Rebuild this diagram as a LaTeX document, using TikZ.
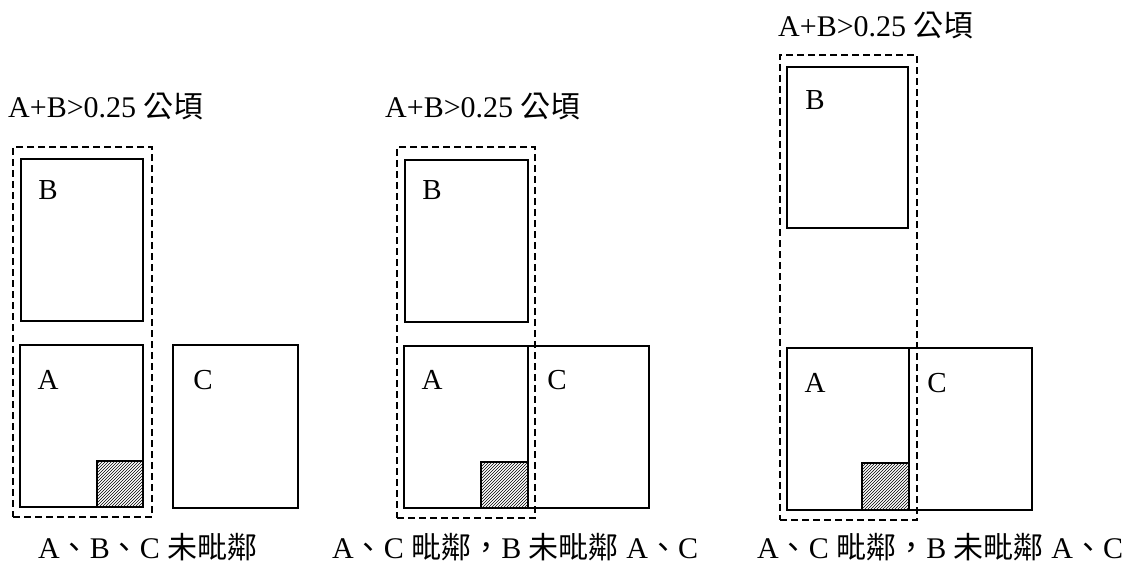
\documentclass[tikz,border=0pt]{standalone}
\usepackage{fontspec}
\setmainfont{Liberation Serif}
\newfontfamily\cjk{Noto Sans CJK TC}
\usetikzlibrary{fit,patterns}
\begin{document}
\begin{tikzpicture}[x=1pt,y=-1pt,
  plot/.style={draw=black, line width=1.6pt, inner sep=0pt, fill=none},
  group/.style={draw=black, line width=1.5pt, dash pattern=on 7pt off 4pt, inner sep=0pt},
  hatch/.style={draw=black, line width=1.4pt, inner sep=0pt, pattern=north east lines},
  letter/.style={font=\fontsize{29}{32}\selectfont, inner sep=0pt},
  area/.style={font=\fontsize{30}{33}\selectfont, inner sep=0pt, anchor=base west},
  caption/.style={font=\fontsize{30}{33}\selectfont, inner sep=0pt, anchor=base west}]
\path[fill=white] (0,0) rectangle (1135,567);
\useasboundingbox (0,0) rectangle (1135,567);

% ---------- panel 1 ----------
\node[area] (t1) at (8,118) {A+B>0.25 {\cjk 公頃}};
\node[group, fit={(13,147) (152,517)}] (g1) {};
\node[plot, fit={(21,159) (143,321)}] (b1) {};
\node[plot, fit={(20,345) (143,507)}] (a1) {};
\node[hatch, fit={(97,461) (143,507)}] (h1) {};
\node[plot, fit={(173,345) (298,508)}] (c1) {};
\node[letter] (lb1) at (48,190) {B};
\node[letter] (la1) at (48,380) {A};
\node[letter] (lc1) at (203,380) {C};
\node[caption] (k1) at (38,558) {A{\cjk 、}B{\cjk 、}C {\cjk 未毗鄰}};

% ---------- panel 2 ----------
\node[area] (t2) at (385,118) {A+B>0.25 {\cjk 公頃}};
\node[group, fit={(397,147) (535,518)}] (g2) {};
\node[plot, fit={(405,160) (528,322)}] (b2) {};
\node[plot, fit={(404,346) (528,508)}] (a2) {};
\node[hatch, fit={(481,462) (528,508)}] (h2) {};
\node[plot, fit={(528,346) (649,508)}] (c2) {};
\node[letter] (lb2) at (432,190) {B};
\node[letter] (la2) at (432,380) {A};
\node[letter] (lc2) at (557,380) {C};
\node[caption] (k2) at (332,558) {A{\cjk 、}C {\cjk 毗鄰，}B {\cjk 未毗鄰} A{\cjk 、}C};

% ---------- panel 3 ----------
\node[area] (t3) at (778,37) {A+B>0.25 {\cjk 公頃}};
\node[group, fit={(780,55) (917,520)}] (g3) {};
\node[plot, fit={(787,67) (908,228)}] (b3) {};
\node[plot, fit={(787,348) (909,510)}] (a3) {};
\node[hatch, fit={(862,463) (909,510)}] (h3) {};
\node[plot, fit={(909,348) (1032,510)}] (c3) {};
\node[letter] (lb3) at (815,100) {B};
\node[letter] (la3) at (815,383) {A};
\node[letter] (lc3) at (937,383) {C};
\node[caption] (k3) at (757,558) {A{\cjk 、}C {\cjk 毗鄰，}B {\cjk 未毗鄰} A{\cjk 、}C};
\end{tikzpicture}
\end{document}
